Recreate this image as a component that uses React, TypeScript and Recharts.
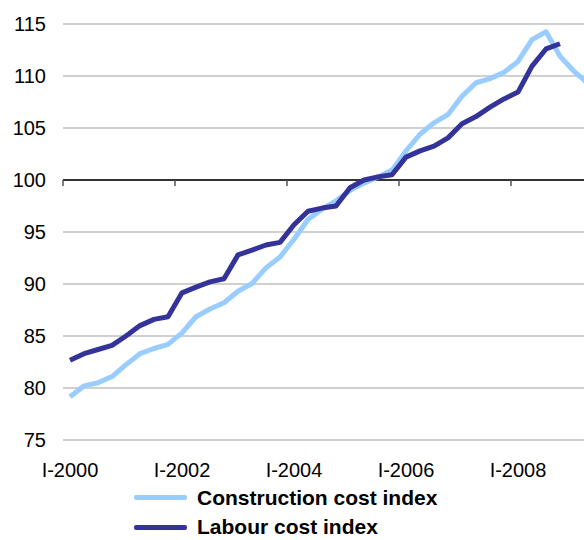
import { LineChart, Line, XAxis, YAxis, CartesianGrid, ReferenceLine } from 'recharts';

const quarters = [
  'I-2000', 'II-2000', 'III-2000', 'IV-2000',
  'I-2001', 'II-2001', 'III-2001', 'IV-2001',
  'I-2002', 'II-2002', 'III-2002', 'IV-2002',
  'I-2003', 'II-2003', 'III-2003', 'IV-2003',
  'I-2004', 'II-2004', 'III-2004', 'IV-2004',
  'I-2005', 'II-2005', 'III-2005', 'IV-2005',
  'I-2006', 'II-2006', 'III-2006', 'IV-2006',
  'I-2007', 'II-2007', 'III-2007', 'IV-2007',
  'I-2008', 'II-2008', 'III-2008', 'IV-2008',
  'I-2009', 'II-2009',
];

const construction = [
  79.15, 80.2, 80.5, 81.1, 82.25, 83.3, 83.8, 84.2, 85.3, 86.85, 87.6, 88.2,
  89.3, 90.05, 91.55, 92.6, 94.3, 96.2, 97.2, 98.0, 99.0, 99.7, 100.3, 100.95,
  102.8, 104.4, 105.5, 106.3, 108.05, 109.35, 109.75, 110.35, 111.4, 113.5,
  114.25, 111.9, 110.45, 109.3,
];

const labour = [
  82.67, 83.3, 83.7, 84.1, 85.0, 86.0, 86.6, 86.85, 89.15, 89.7, 90.2, 90.5,
  92.8, 93.25, 93.75, 94.0, 95.7, 97.0, 97.3, 97.5, 99.25, 100.0, 100.3, 100.5,
  102.2, 102.8, 103.25, 104.05, 105.4, 106.1, 107.0, 107.8, 108.45, 110.95,
  112.6, 113.1, null, null,
];

const xTickLabels = ['I-2000', 'I-2002', 'I-2004', 'I-2006', 'I-2008'];
const yTicks = [75, 80, 85, 90, 95, 100, 105, 110, 115];

const series = [
  { key: 'construction', name: 'Construction cost index', color: '#99ccff' },
  { key: 'labour', name: 'Labour cost index', color: '#333399' },
];

const data = quarters.map((q, i) => ({
  i,
  quarter: q,
  construction: construction[i],
  labour: labour[i],
}));

const xTicks = xTickLabels.map((l) => quarters.indexOf(l));
// tick marks sit on the category boundaries, drawn on the 100 line
const boundaries = xTicks.map((t) => t - 0.5);

const font = '"Liberation Sans", Arial, sans-serif';

export default function App() {
  return (
    <div style={{ position: 'relative', width: 576, height: 532, fontFamily: font }}>
      <style>{'html, body { overflow: hidden; } body { margin-right: 0; } #root { overflow: visible; }'}</style>
      <LineChart
        width={576}
        height={532}
        data={data}
        margin={{ top: 16, right: 0, bottom: 70, left: 0 }}
      >
        <CartesianGrid vertical={false} stroke="#c0c0c0" strokeWidth={1.5} />
        <XAxis
          dataKey="i"
          type="number"
          domain={[-0.5, 36.714]}
          allowDataOverflow
          ticks={xTicks}
          tickFormatter={(v: number) => quarters[v]}
          axisLine={false}
          tickLine={false}
          tickSize={0}
          tickMargin={23}
          height={30}
          interval={0}
          tick={{ fill: '#000', fontSize: 20, fontFamily: font }}
        />
        <YAxis
          domain={[75, 115]}
          ticks={yTicks}
          width={55}
          axisLine={false}
          tickLine={false}
          tickSize={0}
          tickMargin={17}
          tick={{ fill: '#000', fontSize: 20, fontFamily: font }}
        />
        <ReferenceLine y={100} stroke="#000" strokeWidth={1.5} />
        {boundaries.map((b) => (
          <ReferenceLine
            key={b}
            segment={[{ x: b, y: 100 }, { x: b, y: 99.42 }]}
            stroke="#555"
            strokeWidth={1.5}
          />
        ))}
        {series.map((s) => (
          <Line
            key={s.key}
            type="linear"
            dataKey={s.key}
            name={s.name}
            stroke={s.color}
            strokeWidth={5}
            strokeLinejoin="round"
            dot={false}
            activeDot={false}
            isAnimationActive={false}
          />
        ))}
      </LineChart>
      <div style={{ position: 'absolute', left: 126, top: 475 }}>
        {series.map((s) => (
          <div key={s.key} style={{ display: 'flex', alignItems: 'center', height: 29.5 }}>
            <div style={{ width: 53, height: 5, background: s.color, borderRadius: 2 }} />
            <span
              style={{
                marginLeft: 10,
                fontSize: 21,
                lineHeight: '18px',
                fontWeight: 'bold',
                color: '#000',
                whiteSpace: 'nowrap',
              }}
            >
              {s.name}
            </span>
          </div>
        ))}
      </div>
    </div>
  );
}
